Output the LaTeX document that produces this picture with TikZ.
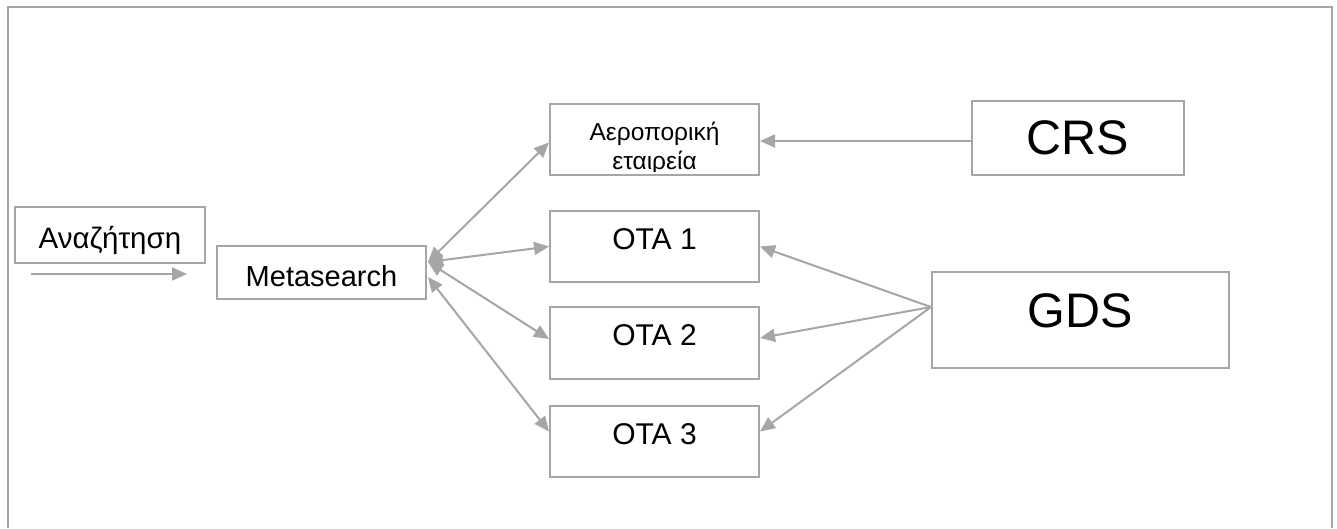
\documentclass[tikz,border=0pt]{standalone}
\usepackage{fontspec}
\setmainfont{Liberation Sans}
\usetikzlibrary{arrows.meta}
\definecolor{linegray}{RGB}{166,166,166}
\begin{document}
\begin{tikzpicture}[x=1pt,y=-1pt,
  box/.style={draw=linegray, line width=2pt, rectangle, inner sep=0pt, text=black},
  fsmall/.style={font=\fontsize{24.5pt}{28pt}\selectfont},
  fmid/.style={font=\fontsize{30pt}{34pt}\selectfont},
  fbig/.style={font=\fontsize{48.5pt}{54pt}\selectfont},
  tip/.tip={Triangle[length=15pt,width=13pt]},
  conn/.style={draw=linegray, line width=2pt, -tip},
  biconn/.style={draw=linegray, line width=2pt, tip-tip},
]
\useasboundingbox (0,0) rectangle (1337,528);
% outer frame, open at the bottom
\draw[linegray, line width=2pt] (8,528) -- (8,7) -- (1332,7) -- (1332,528);

% boxes
\node[box, font=\fontsize{29.5pt}{34pt}\selectfont, minimum width=190pt, minimum height=56pt, text height=27pt, text depth=0pt] (search) at (110,235) {Αναζήτηση};
\node[box, font=\fontsize{29pt}{34pt}\selectfont, minimum width=209pt, minimum height=53pt, text height=27pt, text depth=0pt] (meta) at (321.5,272.5) {Metasearch};
\node[box, minimum width=209pt, minimum height=71pt] (airline) at (654.5,139.5) {};
\node[box, fmid, minimum width=209pt, minimum height=71pt, text height=21pt, text depth=16pt] (ota1) at (654.5,246.5) {OTA 1};
\node[box, fmid, minimum width=209pt, minimum height=72pt, text height=21pt, text depth=16pt] (ota2) at (654.5,343) {OTA 2};
\node[box, fmid, minimum width=209pt, minimum height=71pt, text height=21pt, text depth=16pt] (ota3) at (654.5,441.5) {OTA 3};
\node[box, fbig, minimum width=212pt, minimum height=74pt, text height=35pt, text depth=2pt] (crs) at (1078,138) {CRS};
\node[box, fbig, minimum width=297pt, minimum height=96pt, text height=35pt, text depth=20pt] (gds) at (1080.5,320) {GDS};

% two-line label of the airline box, cut off at the bottom
\begin{scope}
  \clip (550,104) rectangle (759,171.5);
  \node[fsmall, anchor=base, inner sep=0pt] (airlineA) at (654.5,140) {Αεροπορική};
  \node[fsmall, anchor=base, inner sep=0pt] (airlineB) at (654.5,169) {εταιρεία};
\end{scope}

% search arrow under the first box
\coordinate (sfrom) at (31,274);
\coordinate (sto) at (187,274);
\draw[conn] (sfrom) -- (sto);

% metasearch to the sellers
\draw[biconn] ([xshift=1pt,yshift=10.5pt]meta.east) -- ([yshift=-3pt]airline.west);
\draw[biconn] ([xshift=1pt,yshift=10.5pt]meta.east) -- (ota1.west);
\draw[biconn] ([xshift=1pt,yshift=10.5pt]meta.east) -- ([yshift=4pt]ota2.west);
\draw[biconn] ([xshift=1pt,yshift=-4.5pt]meta.east) -- ([yshift=10pt]ota3.west);

% CRS and GDS feeds
\draw[conn] ([yshift=-3pt]crs.west) -- ([yshift=-1.5pt]airline.east);
\draw[conn] ([yshift=13pt]gds.west) -- (ota1.east);
\draw[conn] ([yshift=13pt]gds.west) -- ([yshift=5pt]ota2.east);
\draw[conn] ([yshift=13pt]gds.west) -- ([yshift=10pt]ota3.east);
\end{tikzpicture}
\end{document}
